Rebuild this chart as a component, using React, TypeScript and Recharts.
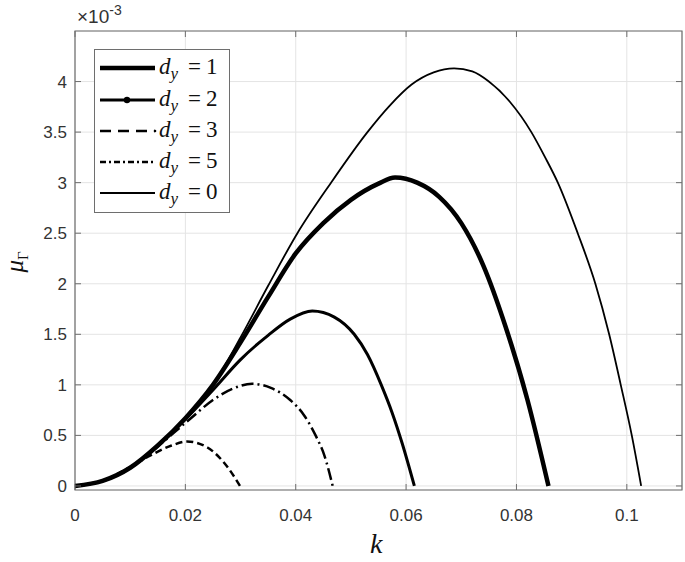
import React from "react";
import {
  LineChart,
  Line,
  XAxis,
  YAxis,
  CartesianGrid,
  ReferenceArea,
} from "recharts";

// wavenumber k / growth rate mu (units of 1e-3)
const kDy0 = [0, 0.005, 0.01, 0.015, 0.02, 0.025, 0.03, 0.035, 0.0403, 0.0464, 0.053, 0.057, 0.061, 0.065, 0.0687, 0.072, 0.075, 0.0788, 0.0827, 0.0852, 0.0875, 0.0911, 0.0943, 0.0968, 0.0989, 0.1009, 0.1026];
const muDy0 = [0, 0.05, 0.18, 0.4, 0.67, 1.0, 1.47, 1.98, 2.5, 3.0, 3.5, 3.76, 3.97, 4.09, 4.13, 4.1, 4.0, 3.8, 3.5, 3.25, 3.0, 2.5, 2.0, 1.5, 1.0, 0.5, 0];

const kDy1 = [0, 0.005, 0.01, 0.015, 0.02, 0.025, 0.03, 0.035, 0.04, 0.045, 0.05, 0.055, 0.058, 0.062, 0.066, 0.07, 0.074, 0.078, 0.082, 0.0858];
const muDy1 = [0, 0.05, 0.18, 0.4, 0.67, 1.0, 1.42, 1.87, 2.3, 2.6, 2.83, 2.99, 3.05, 3.0, 2.86, 2.6, 2.18, 1.58, 0.85, 0];

const kDy2 = [0, 0.005, 0.01, 0.015, 0.02, 0.025, 0.03, 0.035, 0.039, 0.043, 0.047, 0.0506, 0.053, 0.0555, 0.0575, 0.0593, 0.0615];
const muDy2 = [0, 0.05, 0.18, 0.4, 0.66, 0.95, 1.25, 1.49, 1.65, 1.73, 1.67, 1.5, 1.3, 1.0, 0.72, 0.42, 0];

const kDy3 = [0, 0.005, 0.01, 0.015, 0.018, 0.021, 0.025, 0.0285, 0.0321, 0.0355, 0.039, 0.0415, 0.0436, 0.0452, 0.0467];
const muDy3 = [0, 0.05, 0.18, 0.39, 0.53, 0.67, 0.85, 0.96, 1.01, 0.97, 0.85, 0.7, 0.5, 0.3, 0];

const kDy5 = [0, 0.005, 0.0094, 0.0136, 0.0175, 0.0203, 0.024, 0.0276, 0.0299];
const muDy5 = [0, 0.05, 0.17, 0.3, 0.4, 0.44, 0.38, 0.19, 0];

const xTicks = [0, 0.02, 0.04, 0.06, 0.08, 0.1];
const yTicks = [0, 0.5, 1, 1.5, 2, 2.5, 3, 3.5, 4];
const legendLabels = ["1", "2", "3", "5", "0"];

const toPts = (ks: number[], ms: number[]) => ks.map((k, i) => ({ k, mu: ms[i] }));

const AXIS = "#6e6e6e";
const TXT = "#333";
const PLOT = { left: 75, right: 682, top: 31, bottom: 490 };
const SERIF = "Liberation Serif, DejaVu Serif, serif";

const XTick = (props: any) => {
  const { x, payload } = props;
  return (
    <g>
      <line x1={x} x2={x} y1={PLOT.bottom} y2={PLOT.bottom - 6} stroke={AXIS} />
      <line x1={x} x2={x} y1={PLOT.top} y2={PLOT.top + 6} stroke={AXIS} />
      <text x={x} y={521} textAnchor="middle" fontSize={17} fill={TXT} fontFamily="Liberation Sans, Arial, sans-serif">
        {String(payload.value)}
      </text>
    </g>
  );
};

const YTick = (props: any) => {
  const { y, payload } = props;
  return (
    <g>
      <line x1={PLOT.left} x2={PLOT.left + 6} y1={y} y2={y} stroke={AXIS} />
      <line x1={PLOT.right} x2={PLOT.right - 6} y1={y} y2={y} stroke={AXIS} />
      <text x={67} y={y + 6} textAnchor="end" fontSize={17} fill={TXT} fontFamily="Liberation Sans, Arial, sans-serif">
        {String(payload.value)}
      </text>
    </g>
  );
};

// line styles per series
const styles: { w: number; dash?: string; dot?: boolean }[] = [
  { w: 4.5 },
  { w: 3, dot: true },
  { w: 2.5, dash: "12 4 2 4" },
  { w: 2.5, dash: "7 4" },
  { w: 1.8 },
];

function Legend() {
  const rows = [68, 100, 131, 162, 193];
  const legendDash = [undefined, undefined, "11 7", "6 3 2 3", undefined];
  return (
    <svg width={136} height={164} style={{ position: "absolute", left: 94, top: 49 }}>
      <rect x={0.5} y={0.5} width={135} height={163} fill="#fff" stroke={AXIS} />
      {rows.map((ry, i) => {
        const y = ry - 49;
        const s = styles[i];
        return (
          <g key={i}>
            <line x1={6} x2={61} y1={y} y2={y} stroke="#000" strokeWidth={s.w} strokeDasharray={legendDash[i]} />
            {i === 2 && <circle cx={61} cy={y} r={1.3} fill="#000" />}
            {s.dot && <circle cx={33} cy={y} r={3.2} fill="#000" />}
            <text x={65} y={y + 6} fontSize={23} fill="#111" fontFamily={SERIF}>
              <tspan fontStyle="italic">d</tspan>
              <tspan fontStyle="italic" fontSize={17} dy={5}>y</tspan>
              <tspan dy={-5} dx={10}>=</tspan>
              <tspan dx={5}>{legendLabels[i]}</tspan>
            </text>
          </g>
        );
      })}
    </svg>
  );
}

export default function App() {
  const series = [
    toPts(kDy1, muDy1),
    toPts(kDy2, muDy2),
    toPts(kDy3, muDy3),
    toPts(kDy5, muDy5),
    toPts(kDy0, muDy0),
  ];
  return (
    <div style={{ position: "absolute", left: 0, top: 0, width: 685, height: 562, background: "#fff" }}>
      <LineChart width={685} height={562} margin={{ top: 31, right: 3, left: 15, bottom: 32 }}>
        <CartesianGrid stroke="#e4e4e4" />
        <XAxis
          type="number"
          dataKey="k"
          domain={[0, 0.11]}
          ticks={xTicks}
          interval={0}
          allowDataOverflow
          axisLine={false}
          tickLine={false}
          tick={<XTick />}
          height={40}
        />
        <YAxis
          type="number"
          dataKey="mu"
          domain={[-0.04, 4.5]}
          ticks={yTicks}
          interval={0}
          allowDataOverflow
          axisLine={false}
          tickLine={false}
          tick={<YTick />}
          width={60}
        />
        <ReferenceArea x1={0} x2={0.11} y1={-0.04} y2={4.5} fill="none" fillOpacity={0} stroke={AXIS} strokeWidth={1.2} />
        {series.map((d, i) => (
          <Line
            key={i}
            data={d}
            dataKey="mu"
            type="monotone"
            stroke="#000"
            strokeWidth={styles[i].w}
            strokeDasharray={styles[i].dash}
            dot={false}
            activeDot={false}
            isAnimationActive={false}
          />
        ))}
      </LineChart>
      <Legend />
      <div style={{ position: "absolute", left: 77, top: 3, fontFamily: "Liberation Sans, Arial, sans-serif", fontSize: 19, color: TXT }}>
        ×10<sup style={{ fontSize: 14, position: "relative", top: -1 }}>-3</sup>
      </div>
      <svg width={44} height={80} style={{ position: "absolute", left: 0, top: 222 }}>
        <text transform="translate(23,40) rotate(-90)" textAnchor="middle" fontSize={25} fill="#111" fontFamily={SERIF}>
          <tspan fontStyle="italic">μ</tspan>
          <tspan fontSize={15} dy={5}>Γ</tspan>
        </text>
      </svg>
      <div
        style={{
          position: "absolute",
          left: 370,
          top: 528,
          fontFamily: SERIF,
          fontSize: 28,
          fontStyle: "italic",
          color: "#111",
        }}
      >
        k
      </div>
    </div>
  );
}
